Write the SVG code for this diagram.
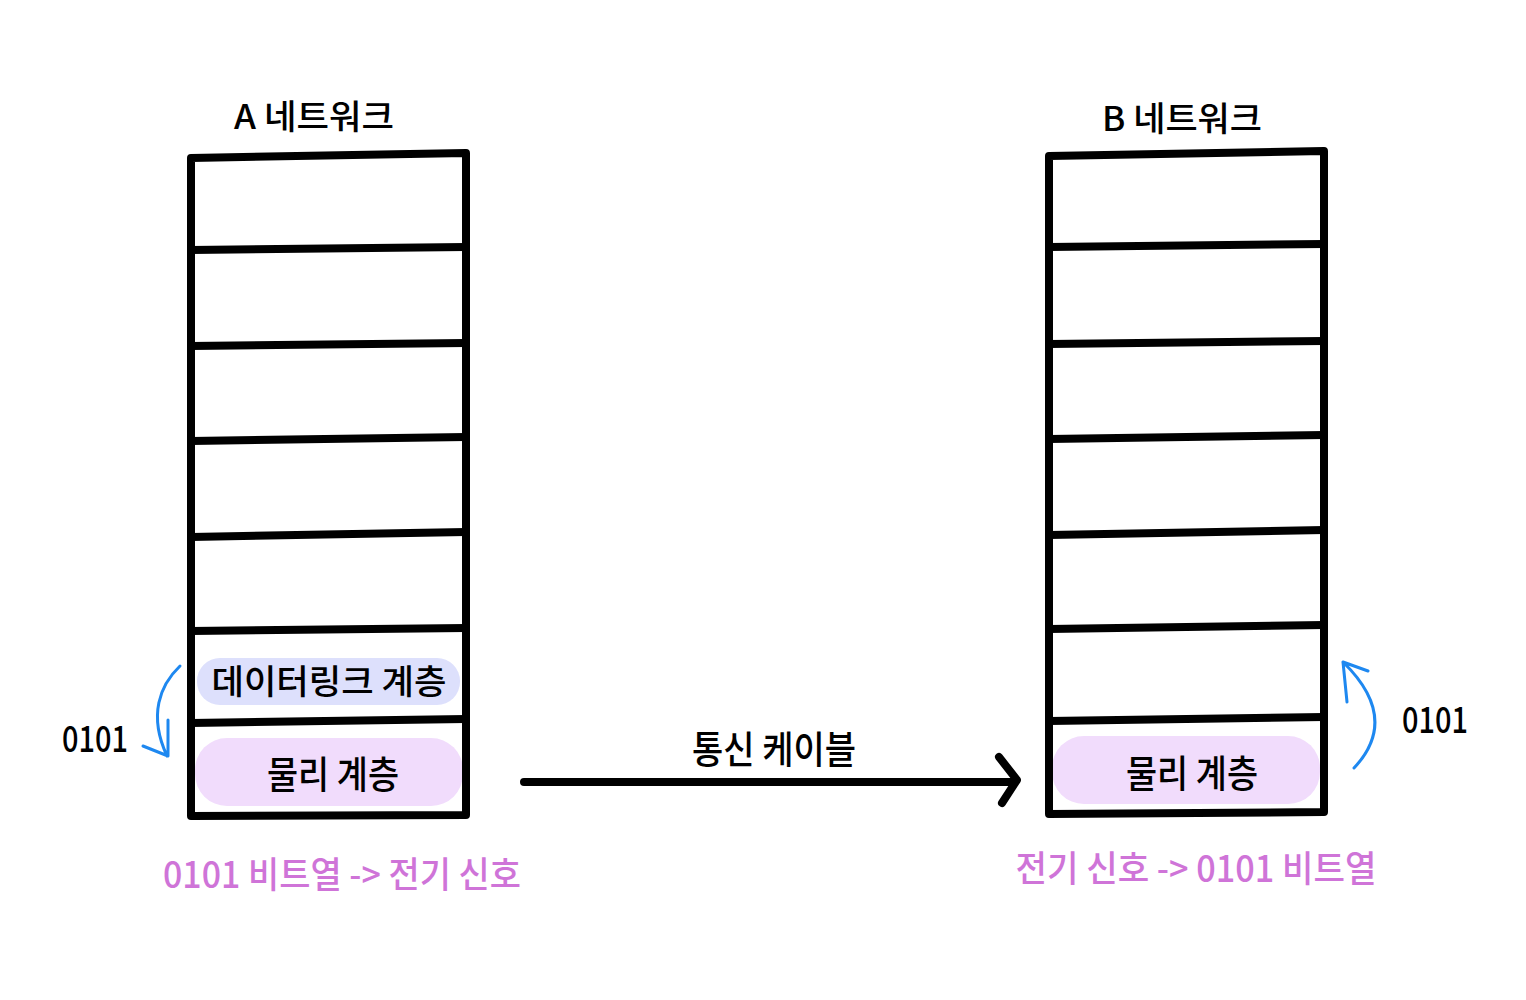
<svg xmlns="http://www.w3.org/2000/svg" width="1526" height="1000" viewBox="0 0 1526 1000">
<style>
.ln{fill:none;stroke:#000;stroke-width:8;stroke-linecap:round;stroke-linejoin:round}
.bl{fill:none;stroke:#1e88f0;stroke-width:3;stroke-linecap:round;stroke-linejoin:round}
.t{font-family:"Noto Sans CJK KR","Noto Sans",sans-serif;fill:#000;font-weight:500}
.pk{font-family:"Noto Sans CJK KR","Noto Sans",sans-serif;fill:#cf74d8;font-weight:500}
</style>
<rect width="1526" height="1000" fill="#fff"/>
<g id="stackA">
<text class="t" x="314" y="129" font-size="34" text-anchor="middle" textLength="160" lengthAdjust="spacingAndGlyphs">A 네트워크</text>
<rect id="pillA1" x="197" y="658" width="263" height="47" rx="23" fill="#dde0fc"/>
<rect id="pillA2" x="195" y="738" width="268" height="68" rx="32" fill="#f1dcfc"/>
<text class="t" x="329" y="694" font-size="34" text-anchor="middle" textLength="235" lengthAdjust="spacingAndGlyphs">데이터링크 계층</text>
<text class="t" x="333" y="788" font-size="38" text-anchor="middle" textLength="132" lengthAdjust="spacingAndGlyphs">물리 계층</text>
<path class="ln" d="M191,158 L466,153 L466,815 L191,816 Z"/>
<path class="ln" d="M191,250 L466,247 M191,346 L466,343 M191,441 L466,437 M191,537 L466,532 M191,631 L466,628 M191,723 L466,719"/>
</g>
<g id="stackB">
<text class="t" x="1182" y="131" font-size="34" text-anchor="middle" textLength="160" lengthAdjust="spacingAndGlyphs">B 네트워크</text>
<rect id="pillB" x="1052" y="736" width="268" height="68" rx="32" fill="#f1dcfc"/>
<text class="t" x="1192" y="787" font-size="38" text-anchor="middle" textLength="132" lengthAdjust="spacingAndGlyphs">물리 계층</text>
<path class="ln" d="M1049,156 L1324,151 L1324,812 L1049,814 Z"/>
<path class="ln" d="M1049,247 L1324,244 M1049,344 L1324,341 M1049,439 L1324,435 M1049,535 L1324,530 M1049,629 L1324,625 M1049,721 L1324,717"/>
</g>
<g id="connectors">
<path class="ln" d="M524,782 L1013,782 M999,757 L1017,780 L1002,803"/>
<text class="t" x="774" y="763" font-size="38" text-anchor="middle" textLength="164" lengthAdjust="spacingAndGlyphs">통신 케이블</text>
<path class="bl" d="M180,666 C160,685 148,715 167,756 M143,746 L168,756 L168,720"/>
<path class="bl" d="M1354,768 C1385,735 1382,700 1343,662 M1368,671 L1343,662 L1347,702"/>
</g>
<g id="labels">
<text class="t" x="95" y="752" font-size="36" font-weight="400" text-anchor="middle" textLength="66" lengthAdjust="spacingAndGlyphs">0101</text>
<text class="t" x="1435" y="733" font-size="36" font-weight="400" text-anchor="middle" textLength="66" lengthAdjust="spacingAndGlyphs">0101</text>
<text class="pk" x="342" y="888" font-size="36" text-anchor="middle" textLength="358" lengthAdjust="spacingAndGlyphs">0101 비트열 -&gt; 전기 신호</text>
<text class="pk" x="1196" y="882" font-size="36" text-anchor="middle" textLength="361" lengthAdjust="spacingAndGlyphs">전기 신호 -&gt; 0101 비트열</text>
</g>
</svg>
